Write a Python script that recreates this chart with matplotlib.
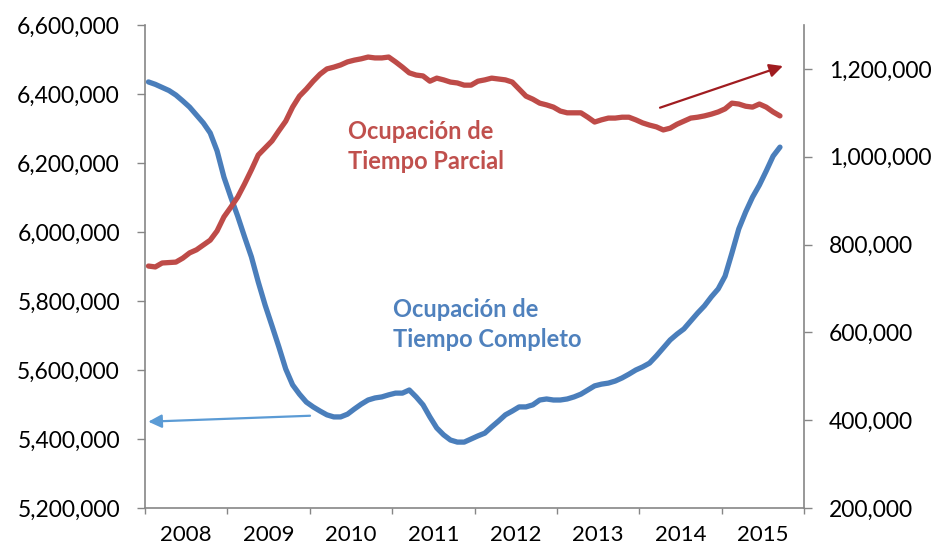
import numpy as np
import matplotlib
matplotlib.use("Agg")
import matplotlib.pyplot as plt
from matplotlib.ticker import FuncFormatter, FixedLocator

plt.rcParams['font.family'] = ['Lato', 'DejaVu Sans']

# monthly data, Jan 2008 - Sep 2015
years = ['2008', '2009', '2010', '2011', '2012', '2013', '2014', '2015']

# ocupacion tiempo completo (left axis)
completo = [
    6435000, 6428000, 6419000, 6410000, 6397000, 6380000, 6362000, 6339000, 6316000, 6287000, 6235000, 6159000,
    6101000, 6046000, 5986000, 5928000, 5855000, 5788000, 5728000, 5667000, 5603000, 5557000, 5530000, 5507000,
    5493000, 5481000, 5470000, 5464000, 5464000, 5472000, 5487000, 5501000, 5513000, 5519000, 5522000, 5528000,
    5533000, 5533000, 5542000, 5522000, 5499000, 5464000, 5432000, 5412000, 5397000, 5391000, 5391000, 5400000,
    5409000, 5417000, 5435000, 5452000, 5470000, 5481000, 5493000, 5493000, 5499000, 5513000, 5516000, 5513000,
    5513000, 5516000, 5522000, 5530000, 5542000, 5554000, 5559000, 5562000, 5568000, 5577000, 5588000, 5600000,
    5609000, 5620000, 5641000, 5664000, 5687000, 5704000, 5719000, 5742000, 5765000, 5786000, 5812000, 5835000,
    5872000, 5939000, 6009000, 6058000, 6101000, 6136000, 6177000, 6220000, 6246000,
]

# ocupacion tiempo parcial (right axis)
parcial = [
    751000, 749000, 758000, 759000, 760000, 769000, 781000, 788000, 799000, 810000, 831000, 863000,
    885000, 908000, 938000, 970000, 1004000, 1020000, 1036000, 1059000, 1081000, 1113000, 1138000, 1154000,
    1172000, 1188000, 1200000, 1204000, 1209000, 1216000, 1220000, 1223000, 1227000, 1225000, 1225000, 1227000,
    1216000, 1204000, 1191000, 1186000, 1184000, 1172000, 1179000, 1175000, 1170000, 1168000, 1163000, 1163000,
    1172000, 1175000, 1179000, 1177000, 1175000, 1170000, 1154000, 1138000, 1131000, 1122000, 1118000, 1113000,
    1104000, 1100000, 1100000, 1100000, 1090000, 1079000, 1084000, 1088000, 1088000, 1090000, 1090000, 1084000,
    1077000, 1072000, 1068000, 1061000, 1065000, 1074000, 1081000, 1088000, 1090000, 1093000, 1097000, 1102000,
    1109000, 1122000, 1120000, 1115000, 1113000, 1120000, 1113000, 1102000, 1093000,
]

left_ticks = [5200000, 5400000, 5600000, 5800000, 6000000, 6200000, 6400000, 6600000]
right_ticks = [200000, 400000, 600000, 800000, 1000000, 1200000]

blue = '#4A7EBB'
red = '#BE4B48'
gray = '#868686'

fig = plt.figure(figsize=(9.4, 5.49), dpi=100)
ax = fig.add_axes([145/940, 41/549, 659/940, 483/549])
ax2 = ax.twinx()

x = np.arange(len(completo)) + 0.5
ax.plot(x, completo, color=blue, lw=3.8, solid_capstyle='round', solid_joinstyle='round')
ax2.plot(x, parcial, color=red, lw=3.8, solid_capstyle='round', solid_joinstyle='round')

ax.set_xlim(0, 12*len(years))
ax.set_ylim(5200000, 6600000)
ax2.set_ylim(200000, 1300000)

fmt = FuncFormatter(lambda v, p: '{:,.0f}'.format(v))
ax.set_yticks(left_ticks)
ax.yaxis.set_major_formatter(fmt)
ax2.set_yticks(right_ticks)
ax2.yaxis.set_major_formatter(fmt)

ax.xaxis.set_major_locator(FixedLocator([12*i for i in range(len(years)+1)]))
ax.xaxis.set_minor_locator(FixedLocator([12*i+6 for i in range(len(years))]))
ax.set_xticklabels([], minor=False)
ax.set_xticklabels(years, minor=True)

ax.tick_params(axis='x', which='major', length=4, width=1, color=gray)
ax.tick_params(axis='x', which='minor', length=0, pad=12, labelsize=16)
ax.tick_params(axis='y', length=6, width=1, color=gray, pad=12, labelsize=16.5)
ax2.tick_params(axis='y', length=6, width=1, color=gray, pad=12, labelsize=16.5)

for a in (ax, ax2):
    a.spines['top'].set_visible(False)
    for s in ('left', 'right', 'bottom'):
        a.spines[s].set_color(gray)
        a.spines[s].set_linewidth(1.2)
ax.spines['right'].set_visible(False)
ax2.spines['left'].set_visible(False)
ax2.spines['bottom'].set_visible(False)

# labels
txt = dict(transform=ax.transAxes, fontsize=17, fontweight='bold', ha='left', va='center')
ax.text(0.308, 0.7805, 'Ocupación de', color='#C0504D', **txt)
ax.text(0.308, 0.7184, 'Tiempo Parcial', color='#C0504D', **txt)
ax.text(0.376, 0.412, 'Ocupación de', color='#4F81BD', **txt)
ax.text(0.376, 0.348, 'Tiempo Completo', color='#4F81BD', **txt)

# arrows pointing to each axis
ax2.annotate('', xy=(0.968, 0.915), xytext=(0.7815, 0.8288), xycoords='axes fraction',
             arrowprops=dict(arrowstyle='-|>', color='#A01C20', lw=1.6, mutation_scale=20,
                             shrinkA=0, shrinkB=0))
ax2.annotate('', xy=(0.005, 0.1787), xytext=(0.2504, 0.191), xycoords='axes fraction',
             arrowprops=dict(arrowstyle='-|>', color='#5B9BD5', lw=1.6, mutation_scale=20,
                             shrinkA=0, shrinkB=0))

fig.savefig('out.png', dpi=100)
